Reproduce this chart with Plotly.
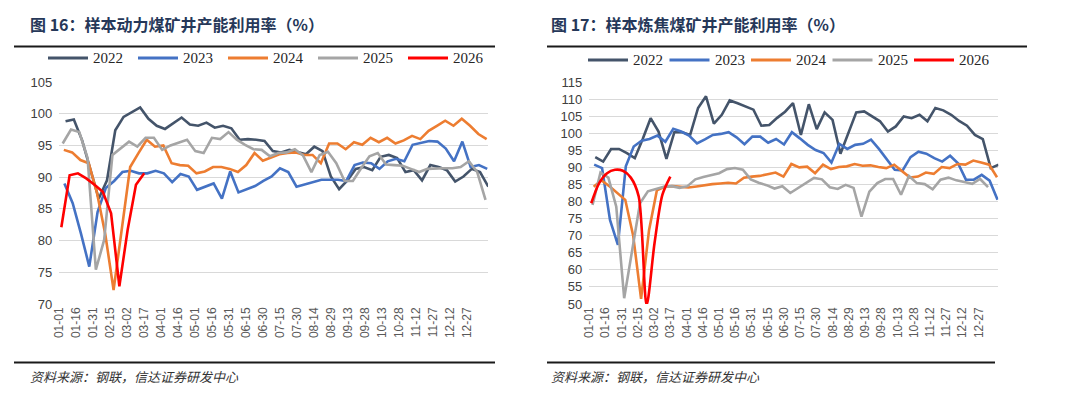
import plotly.graph_objects as go

W, H = 1080, 393

YEARS = ["2022", "2023", "2024", "2025", "2026"]
COLORS = {"2022": "#44546A", "2023": "#4472C4", "2024": "#ED7D31",
          "2025": "#A5A5A5", "2026": "#FF0000"}
START_DAY = {"2022": 5.5, "2023": 4.5, "2024": 4.0, "2025": 3.0, "2026": 1.8}
STEP_DAYS = 7.31

TICK_DAYS = list(range(0, 361, 15))
TICK_LABELS = ["01-01", "01-16", "01-31", "02-15", "03-02", "03-17", "04-01",
               "04-16", "05-01", "05-16", "05-31", "06-15", "06-30", "07-15",
               "07-30", "08-14", "08-29", "09-13", "09-28", "10-13", "10-28",
               "11-12", "11-27", "12-12", "12-27"]

# 图16 样本动力煤矿井产能利用率（%）
thermal_2022 = [98.8, 99.1, 95.8, 91.0, 86.6, 89.5, 97.4, 99.5, 100.3, 101.0, 99.2, 98.1,
                97.6, 98.5, 99.4, 98.3, 98.1, 98.6, 97.8, 98.1, 97.7, 95.9, 96.0, 95.9,
                95.7, 94.1, 93.9, 94.3, 94.0, 93.6, 94.8, 94.1, 90.1, 88.1, 89.5, 91.3,
                91.6, 91.1, 93.2, 93.5, 93.0, 90.8, 91.1, 89.5, 91.9, 91.6, 91.1, 89.3,
                90.1, 91.3, 90.8, 88.5]
thermal_2023 = [89.0, 85.9, 81.1, 75.9, 84.5, 88.3, 89.4, 90.8, 91.0, 90.6, 90.6, 91.0,
                90.6, 89.2, 90.5, 90.1, 88.0, 88.5, 89.0, 86.6, 90.9, 87.6, 88.1, 88.6,
                89.4, 90.1, 91.4, 90.8, 88.5, 88.9, 89.3, 89.6, 89.6, 89.6, 89.4, 91.9,
                92.3, 92.2, 91.3, 92.5, 92.9, 92.5, 95.1, 95.4, 95.7, 95.6, 94.5, 92.5,
                95.6, 91.6, 91.9, 91.3]
thermal_2024 = [94.3, 93.9, 92.7, 92.2, 87.5, 81.0, 72.2, 82.0, 91.6, 93.8, 95.9, 94.8,
                95.0, 92.2, 91.9, 91.8, 90.6, 90.9, 91.6, 91.6, 91.3, 90.8, 91.9, 93.8,
                92.6, 93.1, 93.6, 93.8, 93.9, 93.5, 93.5, 92.2, 95.3, 95.3, 94.4, 95.5,
                95.1, 96.2, 95.5, 96.2, 95.3, 95.8, 96.5, 96.0, 97.3, 98.1, 98.9, 98.1,
                99.2, 98.1, 96.8, 96.0]
thermal_2025 = [95.3, 97.5, 97.1, 93.0, 75.4, 80.1, 93.5, 94.5, 95.6, 94.8, 96.2, 96.2,
                94.3, 95.0, 95.5, 95.9, 94.1, 93.8, 96.2, 96.0, 97.1, 95.9, 95.1, 94.4,
                94.3, 93.3, 93.8, 93.9, 94.4, 93.4, 90.8, 93.5, 94.0, 92.2, 89.4, 89.4,
                91.4, 93.3, 93.8, 92.0, 91.9, 91.8, 91.3, 90.8, 91.3, 91.4, 91.4, 91.4,
                91.6, 92.5, 90.8, 86.4]
thermal_2026 = [82.1, 90.3, 90.6, 89.8, 88.8, 87.7, 84.3, 72.8, 81.7, 88.8, 90.6]

# 图17 样本炼焦煤矿井产能利用率（%）
coking_2022 = [93.0, 91.7, 95.4, 95.4, 94.2, 92.7, 98.3, 104.4, 100.5, 92.5, 100.3, 100.3,
               99.5, 107.4, 110.8, 102.8, 105.4, 109.6, 108.8, 107.9, 106.9, 102.2, 102.4,
               104.5, 106.3, 108.8, 99.5, 108.5, 101.2, 106.1, 103.9, 94.0, 100.0, 106.1,
               106.4, 104.9, 103.5, 100.5, 102.0, 104.9, 104.4, 105.4, 103.5, 107.4, 106.7,
               105.4, 103.6, 102.2, 99.5, 98.3, 89.8, 90.8]
coking_2023 = [90.8, 89.8, 74.6, 67.3, 90.3, 96.1, 97.8, 98.3, 99.3, 97.5, 101.3, 100.5,
               99.3, 97.0, 98.2, 99.5, 99.8, 100.3, 98.8, 96.8, 99.0, 99.0, 97.2, 98.3,
               96.7, 100.3, 98.5, 96.6, 95.1, 94.2, 91.4, 96.9, 95.4, 96.6, 96.9, 98.1,
               95.4, 92.4, 89.3, 89.1, 93.0, 94.6, 94.0, 92.7, 91.7, 93.4, 91.2, 86.4,
               86.4, 87.8, 86.1, 80.5]
coking_2024 = [84.3, 86.2, 84.5, 82.5, 80.5, 70.0, 51.5, 71.5, 83.3, 84.3, 84.5, 84.3,
               84.1, 84.4, 84.8, 85.1, 85.3, 85.5, 85.3, 87.0, 87.3, 87.5, 88.0, 88.5,
               87.3, 91.0, 90.0, 90.2, 88.3, 90.8, 89.5, 90.1, 90.3, 91.0, 90.5, 90.6,
               90.1, 89.8, 90.8, 88.8, 87.0, 87.3, 88.5, 88.1, 90.1, 89.8, 91.0, 90.8,
               92.0, 91.4, 90.8, 87.1]
coking_2025 = [79.0, 88.5, 87.0, 78.5, 51.7, 65.0, 79.5, 83.0, 83.7, 84.3, 84.5, 84.0,
               84.5, 86.5, 87.2, 87.8, 88.3, 89.5, 89.8, 89.3, 86.5, 85.5, 84.8, 83.8,
               84.5, 82.5, 84.0, 85.4, 86.9, 86.5, 84.2, 83.7, 84.9, 84.0, 75.6, 82.9,
               85.4, 86.6, 86.6, 82.0, 87.5, 85.4, 85.1, 83.6, 86.4, 87.0, 86.2, 85.7,
               85.2, 86.6, 84.2]
coking_2026 = [79.5, 85.4, 88.3, 89.3, 89.0, 87.0, 81.5, 49.7, 67.8, 82.0, 87.3]

THERMAL = dict(zip(YEARS, [thermal_2022, thermal_2023, thermal_2024, thermal_2025, thermal_2026]))
COKING = dict(zip(YEARS, [coking_2022, coking_2023, coking_2024, coking_2025, coking_2026]))
SMOOTH = {("2", "2026")}


def px_x(p):
    return p / W


def px_y(p):
    return 1 - p / H


fig = go.Figure()

for axis_id, data in (("", THERMAL), ("2", COKING)):
    for yr in YEARS:
        vals = data[yr]
        xs = [START_DAY[yr] + STEP_DAYS * i for i in range(len(vals))]
        smooth = (axis_id, yr) in SMOOTH
        fig.add_trace(go.Scatter(
            x=xs, y=vals, mode="lines", name=yr, showlegend=False,
            line=dict(color=COLORS[yr], width=2.6,
                      shape="spline" if smooth else "linear",
                      smoothing=0.8 if smooth else None),
            xaxis="x" + axis_id, yaxis="y" + axis_id, hoverinfo="skip"))

tick_font = dict(family="Liberation Sans, Arial", size=12, color="#595959")
common_x = dict(range=[0, 378], tickmode="array", tickvals=TICK_DAYS, ticktext=TICK_LABELS,
                tickangle=-90, showgrid=False, zeroline=False, showline=False,
                ticks="", tickfont=tick_font, fixedrange=True, automargin=False)
common_y = dict(dtick=5, showgrid=True, gridcolor="#D9D9D9", gridwidth=1, zeroline=False,
                showline=False, ticks="", tickfont=dict(family="Liberation Sans, Arial", size=13,
                                                        color="#404040"),
                ticklabelstandoff=6, fixedrange=True, automargin=False)
y_dom = [px_y(304), px_y(82)]

fig.update_layout(
    width=W, height=H, autosize=False, margin=dict(l=0, r=0, t=0, b=0, pad=0),
    paper_bgcolor="white", plot_bgcolor="white", showlegend=False,
    xaxis=dict(domain=[px_x(59.3), px_x(488)], anchor="y", **common_x),
    yaxis=dict(domain=y_dom, range=[70, 105], anchor="x", **common_y),
    xaxis2=dict(domain=[px_x(589.3), px_x(998.3)], anchor="y2", **common_x),
    yaxis2=dict(domain=y_dom, range=[50, 115], anchor="x2", **common_y),
)

shapes = []
annotations = []

title_font = dict(family="Noto Sans CJK SC", size=16, color="#263859", weight="bold")
src_font = dict(family="Noto Sans CJK SC", size=13, color="#333333", style="italic")

panels = [
    dict(title="图 16：样本动力煤矿井产能利用率（%）", x0=14, x1=495, bx1=495, tx=28,
         leg_x=48, leg_step=90, leg_y=58),
    dict(title="图 17：样本炼焦煤矿井产能利用率（%）", x0=547, x1=1027, bx1=995, tx=549,
         leg_x=588, leg_step=81.5, leg_y=60),
]

for p in panels:
    annotations.append(dict(text=p["title"], x=px_x(p["tx"]), y=px_y(24), xref="paper",
                            yref="paper", xanchor="left", yanchor="middle",
                            showarrow=False, font=title_font))
    for yy, x1 in ((46.5, p["x1"]), (362.5, p["bx1"])):
        shapes.append(dict(type="line", xref="paper", yref="paper",
                           x0=px_x(p["x0"]), x1=px_x(x1),
                           y0=px_y(yy), y1=px_y(yy), line=dict(color="#1a1a1a", width=2)))
    annotations.append(dict(text="资料来源：钢联，信达证券研发中心", x=px_x(p["tx"]),
                            y=px_y(376), xref="paper", yref="paper", xanchor="left",
                            yanchor="middle", showarrow=False, font=src_font))
    for k, yr in enumerate(YEARS):
        lx = p["leg_x"] + k * p["leg_step"]
        shapes.append(dict(type="line", xref="paper", yref="paper",
                           x0=px_x(lx), x1=px_x(lx + 40), y0=px_y(p["leg_y"]),
                           y1=px_y(p["leg_y"]), line=dict(color=COLORS[yr], width=3)))
        annotations.append(dict(text=yr, x=px_x(lx + 43), y=px_y(p["leg_y"]), xref="paper",
                                yref="paper", xanchor="left", yanchor="middle",
                                showarrow=False,
                                font=dict(family="Liberation Serif", size=15, color="#262626")))

fig.update_layout(shapes=shapes, annotations=annotations)
fig.write_html("out.html", config={"responsive": False, "displayModeBar": False},
               post_script="document.body.style.margin='0';document.body.style.overflow='hidden';")
